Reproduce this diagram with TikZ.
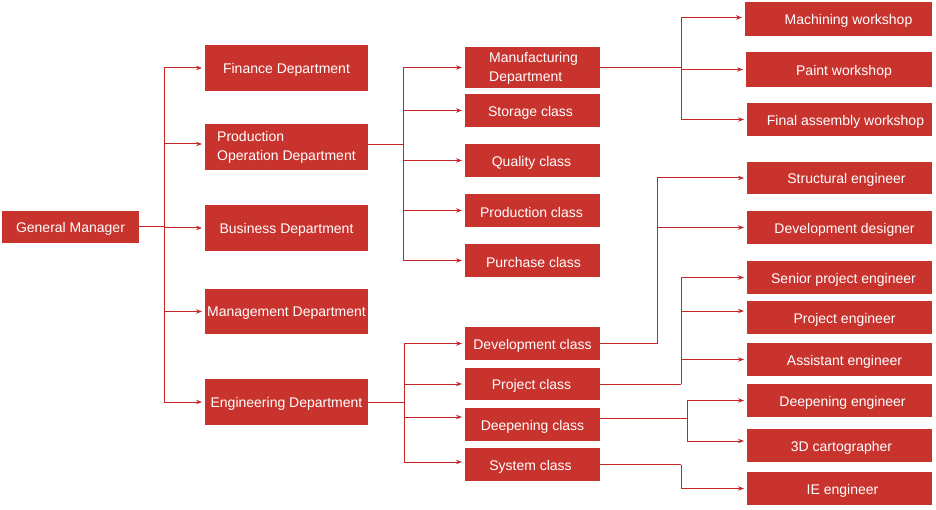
\documentclass[tikz,border=0pt]{standalone}
\usepackage{fontspec}
\setmainfont{Liberation Sans}
\usetikzlibrary{arrows.meta}
\definecolor{boxred}{RGB}{201,51,45}
\definecolor{linered}{RGB}{200,38,38}
\newcommand\OrgBox[7]{%
  \node[box, minimum width={#4-#2}, minimum height={#5-#3}] (#1) at ({(#2+#4)/2},{(#3+#5)/2}) {};
  \node[txt] (#1t) at ([xshift=#6pt,yshift=-2pt]#1.center) {#7};}
\begin{document}
\begin{tikzpicture}[x=1pt,y=-1pt,
  box/.style={fill=boxred, draw=none, inner sep=0pt, outer sep=0pt},
  txt/.style={text=white, font=\fontsize{14}{19}\selectfont, inner sep=0pt},
  conn/.style={draw=linered, line width=1pt},
  arr/.style={conn, -{Stealth[length=6pt,width=4.5pt]}, shorten >=3pt}]
\useasboundingbox (0,0) rectangle (936,510);

% level 0
\OrgBox{gm}{2}{211}{139}{243}{0}{General Manager}
% level 1
\OrgBox{fin}{205}{45}{368}{91}{0}{Finance Department}
\node[box, minimum width=163, minimum height=46] (poe) at (286.5,147) {};
\node[txt, anchor=west, align=left] (poet) at (217,147) {Production\\Operation Department};
\OrgBox{bus}{205}{205}{368}{251}{0}{Business Department}
\OrgBox{mgt}{205}{289}{368}{334}{0}{Management Department}
\OrgBox{eng}{205}{379}{368}{425}{0}{Engineering Department}
% level 2 production
\node[box, minimum width=135, minimum height=41] (manu) at (532.5,67.5) {};
\node[txt, anchor=west, align=left] (manut) at (489,68.5) {Manufacturing\\Department};
\OrgBox{stor}{465}{94}{600}{127}{-2}{Storage class}
\OrgBox{qual}{465}{144}{600}{177}{-1}{Quality class}
\OrgBox{prodc}{465}{194}{600}{227}{-1}{Production class}
\OrgBox{purc}{465}{244}{600}{277}{1}{Purchase class}
% level 2 engineering
\OrgBox{devc}{465}{327}{600}{360}{0}{Development class}
\OrgBox{projc}{465}{368}{600}{400}{-1}{Project class}
\OrgBox{deepc}{465}{408}{600}{441}{0}{Deepening class}
\OrgBox{sysc}{465}{448}{600}{481}{-2}{System class}
% level 3
\OrgBox{mach}{745}{2}{932}{36}{10}{Machining workshop}
\OrgBox{paint}{746}{52}{932}{87}{5}{Paint workshop}
\OrgBox{final}{747}{103}{932}{136}{6}{Final assembly workshop}
\OrgBox{struct}{747}{162}{932}{194}{7}{Structural engineer}
\OrgBox{devd}{747}{211}{932}{244}{5}{Development designer}
\OrgBox{senior}{747}{261}{932}{294}{4}{Senior project engineer}
\OrgBox{projeng}{747}{301}{932}{334}{5}{Project engineer}
\OrgBox{assist}{747}{343}{932}{376}{5}{Assistant engineer}
\OrgBox{deepeng}{747}{384}{932}{417}{3}{Deepening engineer}
\OrgBox{cart}{747}{429}{932}{462}{2}{3D cartographer}
\OrgBox{ieeng}{747}{472}{932}{505}{3}{IE engineer}

% junctions
\coordinate (j1) at (164,227);
\coordinate (j2) at (403,144.5);
\coordinate (j3) at (681,67.5);
\coordinate (j4) at (657,343.5);
\coordinate (j5) at (681,384);
\coordinate (j6) at (687,418);
\coordinate (j7) at (681,464.5);
\coordinate (j8) at (404,402);

% connectors
\draw[conn] (gm.east) -- (j1);
\draw[arr] (j1) |- (fin.west);
\draw[arr] (j1) |- ([yshift=3pt]poe.west);
\draw[arr] (j1) |- (bus.west);
\draw[arr] (j1) |- (mgt.west);
\draw[arr] (j1) |- (eng.west);

\draw[conn] ([yshift=2.5pt]poe.east) -- (j2);
\draw[arr] (j2) |- (manu.west);
\draw[arr] (j2) |- (stor.west);
\draw[arr] (j2) |- (qual.west);
\draw[arr] (j2) |- (prodc.west);
\draw[arr] (j2) |- (purc.west);

\draw[conn] (manu.east) -- (j3);
\draw[arr] (j3) |- ([yshift=1.5pt]mach.west);
\draw[arr] (j3) |- (paint.west);
\draw[arr] (j3) |- (final.west);

\draw[conn] (eng.east) -- (j8);
\draw[arr] (j8) |- (devc.west);
\draw[arr] (j8) |- (projc.west);
\draw[arr] (j8) |- ([yshift=7.5pt]deepc.west);
\draw[arr] (j8) |- ([yshift=2.5pt]sysc.west);

\draw[conn] (devc.east) -- (j4);
\draw[arr] (j4) |- (struct.west);
\draw[arr] (j4) |- (devd.west);

\draw[conn] (projc.east) -- (j5);
\draw[arr] (j5) |- (senior.west);
\draw[arr] (j5) |- ([yshift=6.5pt]projeng.west);
\draw[arr] (j5) |- (assist.west);

\draw[conn] ([yshift=6.5pt]deepc.east) -- (j6);
\draw[arr] (j6) |- (deepeng.west);
\draw[arr] (j6) |- ([yshift=4.5pt]cart.west);

\draw[conn] (sysc.east) -- (j7);
\draw[arr] (j7) |- (ieeng.west);
\end{tikzpicture}
\end{document}
